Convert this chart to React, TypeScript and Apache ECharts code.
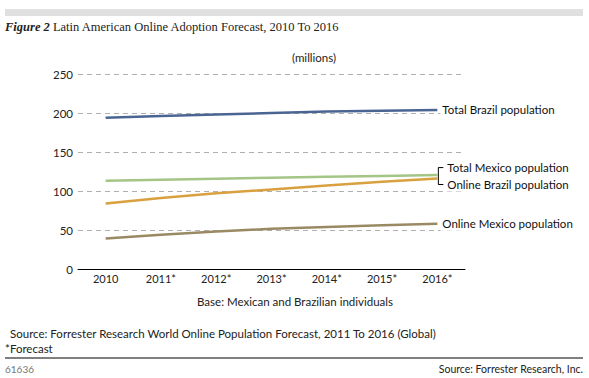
import React, { useEffect, useRef } from "react";
import * as echarts from "echarts";

const years = ["2010", "2011*", "2012*", "2013*", "2014*", "2015*", "2016*"];
const totalBrazil = [194, 196, 198, 200, 202, 203, 204];
const totalMexico = [113, 114.5, 115.8, 117, 118.2, 119.3, 120.4];
const onlineBrazil = [84, 91, 97, 102, 107, 112, 116];
const onlineMexico = [39, 44, 48, 51.5, 54, 56, 58];
const yTicks = [0, 50, 100, 150, 200, 250];

const SANS = "Lato, 'Open Sans', sans-serif";

export default function App() {
  const ref = useRef<HTMLDivElement>(null);
  useEffect(() => {
    document.body.style.margin = "0";
    const chart = echarts.init(ref.current!, null, { renderer: "svg" });
    const lineSeries = (name: string, data: number[], color: string, endOffset: number[] | null) => ({
      name,
      type: "line",
      data,
      symbol: "none",
      lineStyle: { color, width: 2.5 },
      endLabel: {
        show: true,
        formatter: name,
        color: "#111",
        fontFamily: SANS,
        fontSize: 11.5,
        distance: 3,
        backgroundColor: "#fff",
        padding: [1, 2],
        offset: endOffset || [0, 0],
      },
    });
    chart.setOption({
      animation: false,
      grid: { left: 78, right: 124, top: 74, bottom: 109 },
      xAxis: {
        type: "category",
        data: years,
        boundaryGap: true,
        axisLine: { lineStyle: { color: "#000", width: 1 } },
        axisTick: { show: false },
        axisLabel: { color: "#222", fontFamily: SANS, fontSize: 11, margin: 4 },
      },
      yAxis: {
        type: "value",
        min: 0,
        max: 250,
        interval: 50,
        axisLine: { show: false },
        axisTick: { show: false },
        axisLabel: {
          color: "#222",
          fontFamily: SANS,
          fontSize: 11.5,
          margin: 5,
          formatter: (v: number) => (yTicks.includes(v) ? String(v) : ""),
        },
        splitLine: { lineStyle: { color: "#b0b0b0", type: [5, 4], width: 1 } },
      },
      series: [
        lineSeries("Total Brazil population", totalBrazil, "#4b6593", null),
        lineSeries("Total Mexico population", totalMexico, "#a3c585", [5, -7.5]),
        lineSeries("Online Brazil population", onlineBrazil, "#d9a040", [5, 6]),
        lineSeries("Online Mexico population", onlineMexico, "#9a8a64", null),
      ],
      graphic: [
        { id: "bar", type: "rect", shape: { x: 5, y: 9, width: 578, height: 7 }, style: { fill: "#e0e0e0" } },
        {
          id: "title",
          type: "text",
          x: 5,
          y: 20,
          style: {
            text: "{b|Figure 2} Latin American Online Adoption Forecast, 2010 To 2016",
            fill: "#222",
            fontFamily: "'Liberation Serif', serif",
            fontSize: 12.5,
            rich: {
              b: { fontWeight: "bold", fontStyle: "italic", fontFamily: "'Liberation Serif', serif", fontSize: 12.5, fill: "#222" },
            },
          },
        },
        {
          id: "unit",
          type: "text",
          x: 314,
          y: 57,
          style: { text: "(millions)", fill: "#222", fontFamily: SANS, fontSize: 11.5, align: "center", verticalAlign: "middle" },
        },
        {
          id: "base",
          type: "text",
          x: 295,
          y: 301,
          style: { text: "Base: Mexican and Brazilian individuals", fill: "#222", fontFamily: SANS, fontSize: 11.5, align: "center", verticalAlign: "middle" },
        },
        {
          id: "src",
          type: "text",
          x: 10,
          y: 333,
          style: { text: "Source: Forrester Research World Online Population Forecast, 2011 To 2016 (Global)", fill: "#222", fontFamily: SANS, fontSize: 11.5, verticalAlign: "middle" },
        },
        {
          id: "fc",
          type: "text",
          x: 5,
          y: 348,
          style: { text: "*Forecast", fill: "#222", fontFamily: SANS, fontSize: 11.5, verticalAlign: "middle" },
        },
        { id: "rule", type: "line", shape: { x1: 5, y1: 358, x2: 583, y2: 358 }, style: { stroke: "#000", lineWidth: 1 } },
        {
          id: "num",
          type: "text",
          x: 5,
          y: 369,
          style: { text: "61636", fill: "#777", fontFamily: SANS, fontSize: 10, verticalAlign: "middle" },
        },
        {
          id: "src2",
          type: "text",
          x: 583,
          y: 369,
          style: { text: "Source: Forrester Research, Inc.", fill: "#222", fontFamily: SANS, fontSize: 10.5, align: "right", verticalAlign: "middle" },
        },
      ],
    });
    // bracket joining the two close end labels
    const last = years.length - 1;
    const pTop = chart.convertToPixel({ seriesIndex: 1 }, [last, totalMexico[last]]) as number[];
    const pBot = chart.convertToPixel({ seriesIndex: 2 }, [last, onlineBrazil[last]]) as number[];
    const bx = pTop[0] + 1;
    const yT = pTop[1] - 7.5;
    const yB = pBot[1] + 6;
    chart.setOption({
      graphic: [
        {
          id: "bracket",
          type: "polyline",
          z: 100,
          shape: { points: [[bx + 5, yT], [bx, yT], [bx, yB], [bx + 5, yB]] },
          style: { stroke: "#000", lineWidth: 1, fill: null },
        },
      ],
    });
    return () => chart.dispose();
  }, []);
  return <div ref={ref} style={{ width: 589, height: 378 }} />;
}
